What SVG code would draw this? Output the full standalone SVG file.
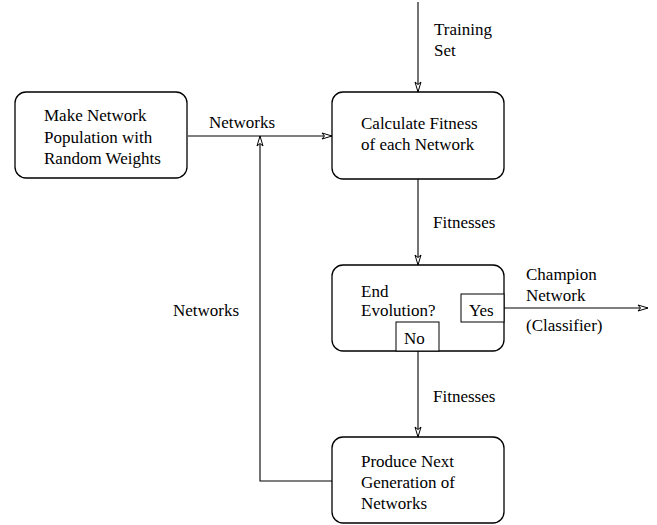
<svg xmlns="http://www.w3.org/2000/svg" width="657" height="525" viewBox="0 0 657 525">
<defs>
<marker id="arr" viewBox="0 0 12 8" refX="11" refY="4" markerWidth="12" markerHeight="8" markerUnits="userSpaceOnUse" orient="auto">
<path d="M1,1 L11,4 L1,7 L3.5,4 Z" fill="#fff" stroke="#000" stroke-width="1"/>
</marker>
<style>
.box{fill:#fff;stroke:#000;stroke-width:1.3}
.sq{fill:#fff;stroke:#000;stroke-width:1}
.t{font-family:"Liberation Serif","Times New Roman",serif;font-size:17px;fill:#000}
.ln{fill:none;stroke:#000;stroke-width:1.1}
</style>
</defs>
<rect width="657" height="525" fill="#fff"/>
<g id="connectors">
<line class="ln" x1="418" y1="2" x2="418" y2="92" marker-end="url(#arr)"/>
<line class="ln" x1="188" y1="136" x2="332" y2="136" marker-end="url(#arr)"/>
<polyline class="ln" points="332,481 260,481 260,136" marker-end="url(#arr)"/>
<line class="ln" x1="418" y1="179" x2="418" y2="265" marker-end="url(#arr)"/>
<line class="ln" x1="418" y1="351" x2="418" y2="437" marker-end="url(#arr)"/>
<line class="ln" x1="504" y1="308" x2="648" y2="308" marker-end="url(#arr)"/>
<text class="t" x="434" y="35">Training</text>
<text class="t" x="434" y="56">Set</text>
<text class="t" x="209" y="128">Networks</text>
<text class="t" x="173" y="316">Networks</text>
<text class="t" x="433" y="228">Fitnesses</text>
<text class="t" x="433" y="402">Fitnesses</text>
<text class="t" x="526" y="280">Champion</text>
<text class="t" x="526" y="301">Network</text>
<text class="t" x="526" y="331">(Classifier)</text>
</g>
<g id="make">
<rect class="box" x="15" y="92" width="172" height="86" rx="11"/>
<text class="t" x="44" y="121">Make Network</text>
<text class="t" x="44" y="143">Population with</text>
<text class="t" x="44" y="164">Random Weights</text>
</g>
<g id="calc">
<rect class="box" x="332" y="92" width="172" height="87" rx="11"/>
<text class="t" x="361" y="129">Calculate Fitness</text>
<text class="t" x="361" y="150">of each Network</text>
</g>
<g id="end">
<rect class="box" x="332" y="265" width="172" height="86" rx="11"/>
<text class="t" x="361" y="297">End</text>
<text class="t" x="361" y="316">Evolution?</text>
<rect class="sq" x="461" y="294" width="43" height="28"/>
<text class="t" x="469" y="316">Yes</text>
<rect class="sq" x="396" y="322" width="43" height="29"/>
<text class="t" x="404" y="344">No</text>
</g>
<g id="produce">
<rect class="box" x="332" y="437" width="172" height="86" rx="11"/>
<text class="t" x="361" y="467">Produce Next</text>
<text class="t" x="361" y="488">Generation of</text>
<text class="t" x="361" y="509">Networks</text>
</g>
</svg>
